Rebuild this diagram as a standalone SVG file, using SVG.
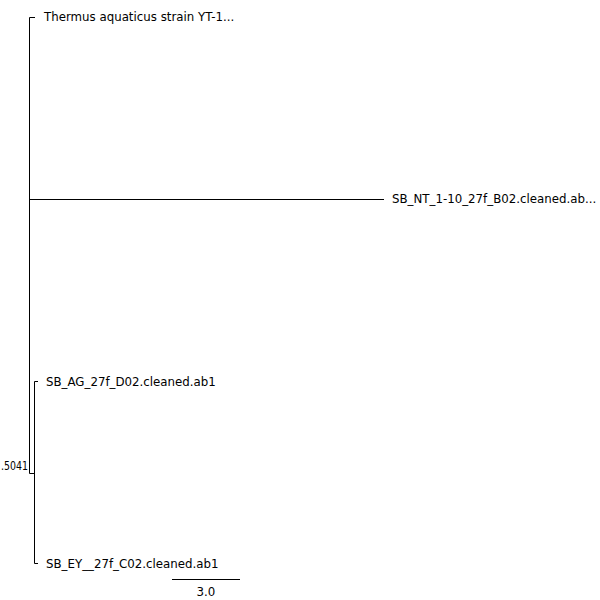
<svg xmlns="http://www.w3.org/2000/svg" width="600" height="600" viewBox="0 0 600 600">
<style>
.b{stroke:#000;stroke-width:1;fill:none}
text{font-family:"DejaVu Sans","Liberation Sans",sans-serif;font-size:11.8px;fill:#000}
</style>
<rect width="600" height="600" fill="#fff"/>
<g id="connectors">
<path class="b" d="M29.5,17.5V473.5M29.5,17.5H35M29.5,199.5H384M29.5,473.5H34.5M34.5,381.5V563.5M34.5,381.5H38M34.5,563.5H38"/>
<path class="b" d="M172,579.5H240"/>
</g>
<g id="tip-thermus"><text x="44" y="21">Thermus aquaticus strain YT-1...</text></g>
<g id="tip-nt"><text x="392" y="203">SB_NT_1-10_27f_B02.cleaned.ab...</text></g>
<g id="tip-ag"><text x="46" y="386">SB_AG_27f_D02.cleaned.ab1</text></g>
<g id="tip-ey"><text x="46" y="568">SB_EY__27f_C02.cleaned.ab1</text></g>
<g id="node-support"><text x="1" y="470" textLength="27" lengthAdjust="spacingAndGlyphs">.5041</text></g>
<g id="scale"><text x="206" y="596" text-anchor="middle">3.0</text></g>
</svg>
